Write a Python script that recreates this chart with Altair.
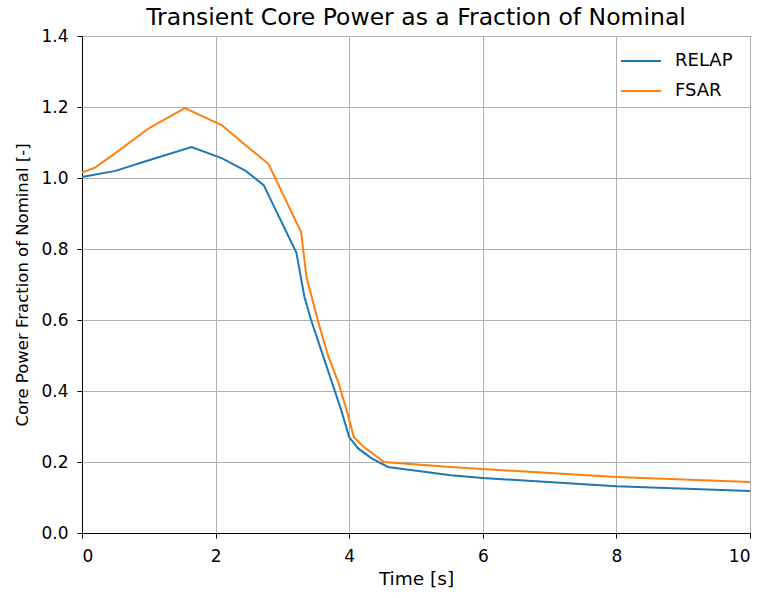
import altair as alt
import pandas as pd

relap_t = [0.0, 0.5, 1.0, 1.64, 2.09, 2.45, 2.72, 3.21, 3.33, 3.43, 3.58, 3.73, 3.88, 4.0, 4.13, 4.33, 4.58, 5.52, 6.0, 8.0, 10.0]
relap_p = [1.003, 1.02, 1.05, 1.087, 1.056, 1.02, 0.98, 0.789, 0.665, 0.600, 0.515, 0.431, 0.346, 0.27, 0.239, 0.211, 0.186, 0.163, 0.155, 0.132, 0.118]

fsar_t = [0.0, 0.2, 0.5, 1.0, 1.54, 2.09, 2.4, 2.79, 3.28, 3.36, 3.54, 3.69, 3.84, 3.99, 4.07, 4.22, 4.52, 5.52, 6.0, 8.0, 10.0]
fsar_p = [1.015, 1.03, 1.07, 1.14, 1.197, 1.149, 1.10, 1.04, 0.848, 0.721, 0.592, 0.496, 0.423, 0.327, 0.27, 0.242, 0.200, 0.186, 0.180, 0.158, 0.144]

series = ["RELAP", "FSAR"]
colors = ["#1f77b4", "#ff7f0e"]

df = pd.concat([
    pd.DataFrame({"t": relap_t, "p": relap_p, "s": "RELAP", "o": range(len(relap_t))}),
    pd.DataFrame({"t": fsar_t, "p": fsar_p, "s": "FSAR", "o": range(len(fsar_t))}),
])

font = "DejaVu Sans"

chart = alt.Chart(df).mark_line(strokeWidth=2).encode(
    x=alt.X("t:Q", title="Time [s]", scale=alt.Scale(domain=[0, 10], nice=False),
            axis=alt.Axis(values=[0, 2, 4, 6, 8, 10], format="d",
                          labelPadding=10, titlePadding=5, titleFontSize=18.5)),
    y=alt.Y("p:Q", title="Core Power Fraction of Nominal [-]",
            scale=alt.Scale(domain=[0, 1.4], nice=False),
            axis=alt.Axis(values=[0, 0.2, 0.4, 0.6, 0.8, 1.0, 1.2, 1.4], format=".1f",
                          labelPadding=9, titlePadding=10, titleFontSize=16.5)),
    color=alt.Color("s:N", scale=alt.Scale(domain=series, range=colors),
                    sort=series,
                    legend=alt.Legend(title=None, orient="none", legendX=536, legendY=2,
                                      symbolType="stroke", symbolStrokeWidth=2,
                                      symbolSize=1600, labelFontSize=18, labelFont=font,
                                      labelOffset=13, labelColor="black",
                                      fillColor="rgba(255,255,255,0.8)",
                                      padding=2, rowPadding=-12)),
    order="o:Q",
).properties(
    width=668, height=497,
    title=alt.Title("Transient Core Power as a Fraction of Nominal", fontSize=23.5,
                    font=font, fontWeight="normal", offset=-2),
    autosize=alt.AutoSizeParams(type="none"),
    padding={"left": 82, "top": 36, "right": 14, "bottom": 65},
).configure_axis(
    labelFont=font, titleFont=font, labelFontSize=17,
    titleFontWeight="normal", gridColor="#b0b0b0", gridOpacity=1,
    domainColor="black", tickColor="black", labelColor="black", titleColor="black",
    tickSize=5,
).configure_view(
    stroke="black", strokeWidth=1
).configure_title(color="black")

chart.save("out.html", embed_options={"renderer": "svg", "actions": False})
